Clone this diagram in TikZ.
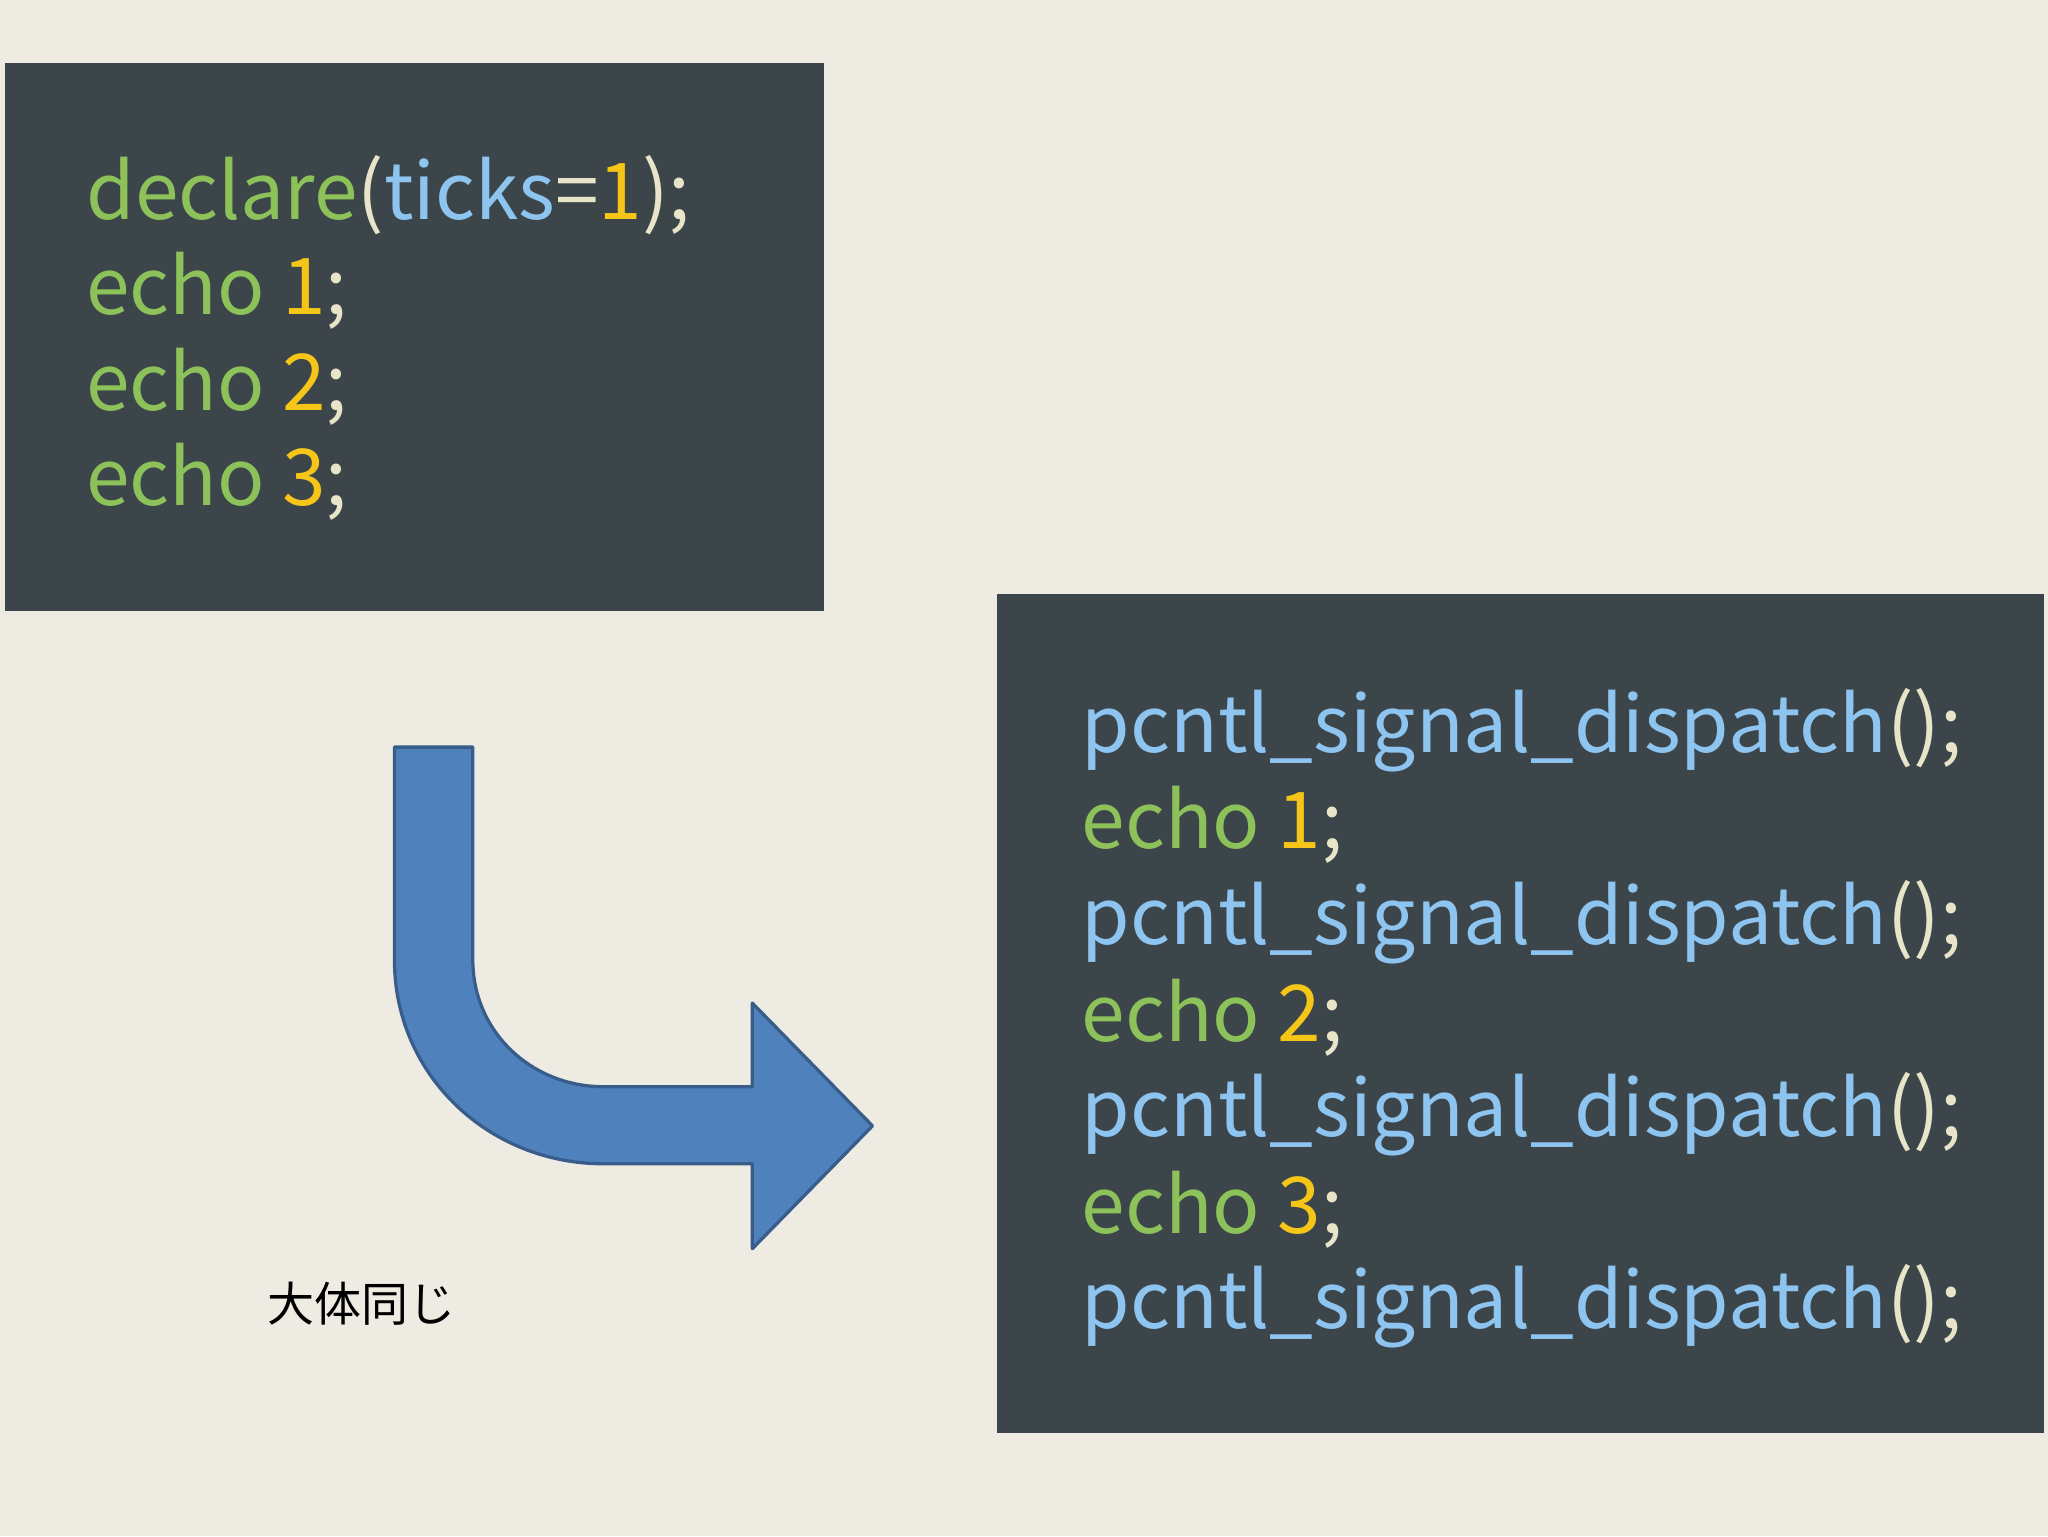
\documentclass[tikz,border=0pt]{standalone}
\usepackage{fontspec}
\setmainfont{Noto Sans CJK JP}
\definecolor{bg}{HTML}{EEEBE2}
\definecolor{box}{HTML}{3B454A}
\definecolor{cg}{HTML}{8DC15A}
\definecolor{cb}{HTML}{8EC5F0}
\definecolor{cy}{HTML}{F5C518}
\definecolor{cw}{HTML}{E8E4C8}
\definecolor{af}{HTML}{4F81BD}
\definecolor{ad}{HTML}{385D8A}
\tikzset{code/.style={anchor=base west,inner sep=0pt,font=\fontsize{60}{60}\selectfont}}
\begin{document}
\begin{tikzpicture}[x=1pt,y=-1pt]
\fill[bg] (0,0) rectangle (1568,1176);
\fill[box] (4,48) rectangle (631,468);
\fill[box] (763,455) rectangle (1565,1097);
\node[code] (l1) at (66,168) {\color{cg}declare\color{cw}(\color{cb}ticks\color{cw}=\color{cy}1\color{cw});};
\node[code] (l2) at (66,241) {\color{cg}echo \color{cy}1\color{cw};};
\node[code] (l3) at (66,314) {\color{cg}echo \color{cy}2\color{cw};};
\node[code] (l4) at (66,387) {\color{cg}echo \color{cy}3\color{cw};};
\foreach \y/\n in {576/1,723/2,870/3,1017/4}
  \node[code] (p\n) at (828,\y) {\color{cb}pcntl\_signal\_dispatch\color{cw}();};
\foreach \y/\n in {650/1,797/2,944/3}
  \node[code] (e\n) at (828,\y) {\color{cg}echo \color{cy}\n\color{cw};};
\draw[fill=af,draw=ad,line width=2.5pt,line join=round]
 (302,572) -- (362,572) -- (362,735) .. controls (362,790) and (407,832) .. (462,832)
 -- (576,832) -- (576,768) -- (668,862) -- (576,956) -- (576,891) -- (462,891)
 .. controls (374,891) and (302,823) .. (302,735) -- cycle;
\node[font=\fontsize{36}{36}\selectfont] (lab) at (277,998) {大体同じ};
\end{tikzpicture}
\end{document}
